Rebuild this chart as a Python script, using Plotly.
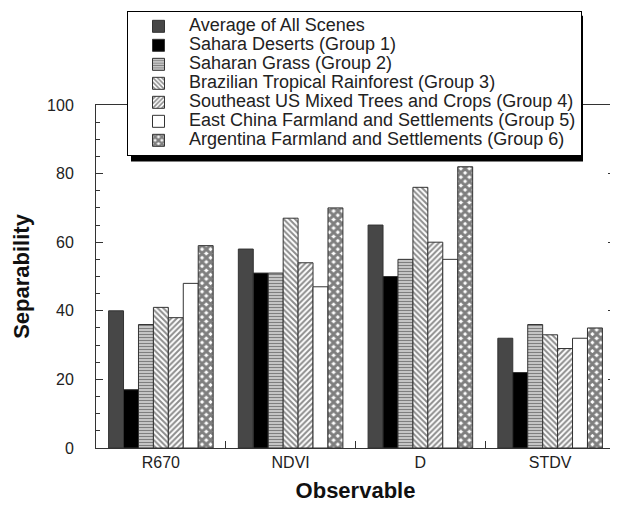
import plotly.graph_objects as go

categories = ["R670", "NDVI", "D", "STDV"]

series_names = [
    "Average of All Scenes",
    "Sahara Deserts (Group 1)",
    "Saharan Grass (Group 2)",
    "Brazilian Tropical Rainforest (Group 3)",
    "Southeast US Mixed Trees and Crops (Group 4)",
    "East China Farmland and Settlements (Group 5)",
    "Argentina Farmland and Settlements (Group 6)",
]

average_all = [40, 58, 65, 32]
sahara_deserts = [17, 51, 50, 22]
saharan_grass = [36, 51, 55, 36]
brazil_forest = [41, 67, 76, 33]
se_us_mixed = [38, 54, 60, 29]
east_china = [48, 47, 55, 32]
argentina = [59, 70, 82, 35]

series_values = [average_all, sahara_deserts, saharan_grass, brazil_forest,
                 se_us_mixed, east_china, argentina]

styles = [
    dict(color="#474747", pattern=dict(shape="")),
    dict(color="#000000", pattern=dict(shape="")),
    dict(color="#ffffff", pattern=dict(shape="-", fgcolor="#222222", bgcolor="#dcdcdc", size=3, solidity=0.5)),
    dict(color="#ffffff", pattern=dict(shape="\\", fgcolor="#1a1a1a", bgcolor="#ffffff", size=4, solidity=0.5)),
    dict(color="#ffffff", pattern=dict(shape="/", fgcolor="#1a1a1a", bgcolor="#ffffff", size=4, solidity=0.5)),
    dict(color="#ffffff", pattern=dict(shape="")),
    dict(color="#ffffff", pattern=dict(shape="x", fgcolor="#000000", bgcolor="#ffffff", size=6, solidity=0.75)),
]

# page offset (browser body margin)
OFF = 8
W, H = 618 - OFF, 507 - OFF
ML, MR, MT, MB = 96 - OFF, 3, 102 - OFF, 59
PW, PH = W - ML - MR, H - MT - MB


def px_x(px):
    return (px - OFF - ML) / PW


def px_y(py):
    return (H - MB - (py - OFF)) / PH


fig = go.Figure()
for name, vals, st in zip(series_names, series_values, styles):
    fig.add_trace(go.Bar(
        x=categories, y=vals,
        name='<span style="font-size:18px">' + name + '</span>',
        marker=dict(color=st["color"], pattern=st["pattern"],
                    line=dict(color="#333333", width=1)),
    ))

font_family = "Liberation Sans, Arial, sans-serif"

# legend drop shadow
fig.add_shape(type="rect", xref="paper", yref="paper",
              x0=px_x(131), x1=px_x(583), y0=px_y(159), y1=px_y(12),
              fillcolor="#000000", line=dict(width=0), layer="above")

fig.update_layout(
    width=W, height=H,
    margin=dict(l=ML, r=MR, t=MT, b=MB),
    paper_bgcolor="white", plot_bgcolor="white",
    barmode="group", bargap=0.194, bargroupgap=0,
    font=dict(family=font_family, color="#222222", size=16),
    showlegend=True,
    legend=dict(
        x=px_x(127), y=px_y(7), xanchor="left", yanchor="top",
        bgcolor="white", bordercolor="#000000", borderwidth=1,
        font=dict(size=12, family=font_family, color="#222222"),
        itemwidth=51, traceorder="normal",
    ),
    xaxis=dict(
        range=[-0.5, 3.5], showline=True, linecolor="#333333", linewidth=1,
        mirror=True, ticks="inside", tickson="boundaries", ticklen=7,
        tickcolor="#333333", showgrid=False, zeroline=False,
        tickfont=dict(size=16), ticklabelstandoff=0,
        title=dict(text="<b>Observable</b>", font=dict(size=22, color="#111111"), standoff=12),
    ),
    yaxis=dict(
        range=[0, 100], dtick=20, showline=True, linecolor="#333333", linewidth=1,
        mirror="ticks", ticks="inside", ticklen=7, tickcolor="#333333",
        minor=dict(dtick=5, ticks="inside", ticklen=4, tickcolor="#333333"),
        showgrid=False, zeroline=False, tickfont=dict(size=16),
        ticklabelstandoff=18,
        title=dict(text="<b>Separability</b>", font=dict(size=22, color="#111111"), standoff=11),
    ),
)

fig.write_html("out.html")
